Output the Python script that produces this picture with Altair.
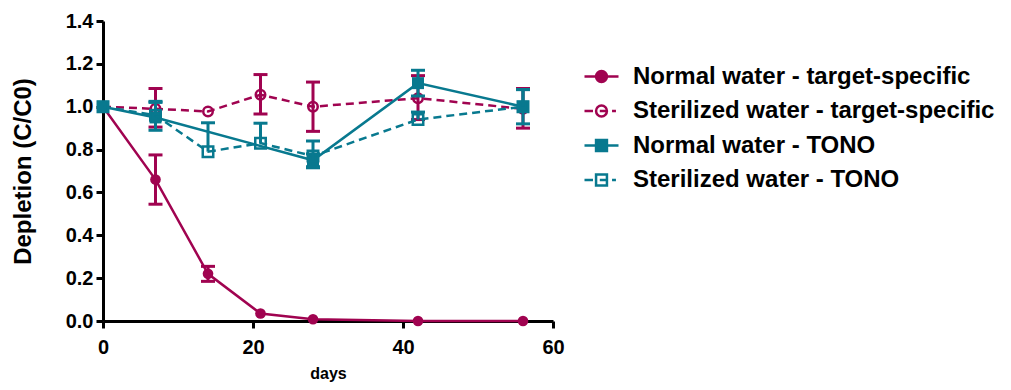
import altair as alt
import pandas as pd

# ---------------- data ----------------
series_names = [
    "Normal water - target-specific",
    "Sterilized water - target-specific",
    "Normal water - TONO",
    "Sterilized water - TONO",
]

nts_days = [0, 7, 14, 21, 28, 42, 56]
nts_mean = [1.0, 0.66, 0.22, 0.035, 0.008, 0.0, 0.0]
nts_up = [0, 0.115, 0.035, 0, 0, 0, 0]
nts_dn = [0, 0.115, 0.035, 0, 0, 0, 0]

sts_days = [0, 7, 14, 21, 28, 42, 56]
sts_mean = [1.0, 0.99, 0.978, 1.056, 1.0, 1.04, 0.99]
sts_up = [0, 0.095, 0, 0.094, 0.115, 0.105, 0.095]
sts_dn = [0, 0.085, 0, 0.09, 0.115, 0.1, 0.09]

nt_days = [0, 7, 28, 42, 56]
nt_mean = [1.0, 0.95, 0.75, 1.11, 1.0]
nt_up = [0, 0.07, 0.03, 0.06, 0.08]
nt_dn = [0, 0.06, 0.035, 0.06, 0.08]

st_days = [0, 7, 14, 21, 28, 42, 56]
st_mean = [1.0, 0.96, 0.79, 0.83, 0.77, 0.94, 1.0]
st_up = [0, 0.065, 0.135, 0.093, 0.07, 0.035, 0.08]
st_dn = [0, 0, 0, 0, 0.05, 0, 0]

x_ticks = [0, 20, 40, 60]
y_ticks = [0.0, 0.2, 0.4, 0.6, 0.8, 1.0, 1.2, 1.4]

MAGENTA = "#A00350"
TEAL = "#08798F"
colors = [MAGENTA, MAGENTA, TEAL, TEAL]
fills = [MAGENTA, "white", TEAL, "white"]
dashed = [False, True, False, True]
marker = ["circle", "circle", "square", "square"]
filled = [True, False, True, False]

# legend symbols (unit box -1..1): line + marker
circ = "M-0.32,0A0.32,0.32 0 1,1 0.32,0A0.32,0.32 0 1,1 -0.32,0Z"
sq = "M-0.32,-0.32H0.32V0.32H-0.32Z"
legend_paths = [
    "M-1,0H1" + circ,
    "M-1,0H-0.5M0.62,0H0.85M-0.1,0H0.3" + circ,
    "M-1,0H1" + sq,
    "M-1,0H-0.5M0.62,0H0.85M-0.1,0H0.3" + sq,
]

raw = [
    (nts_days, nts_mean, nts_up, nts_dn),
    (sts_days, sts_mean, sts_up, sts_dn),
    (nt_days, nt_mean, nt_up, nt_dn),
    (st_days, st_mean, st_up, st_dn),
]

rows, caps = [], []
for name, (d, m, u, dn) in zip(series_names, raw):
    for di, mi, ui, dni in zip(d, m, u, dn):
        rows.append(dict(series=name, day=di, mean=mi, lo=mi - dni, hi=mi + ui,
                         has_err=(ui > 0 or dni > 0)))
        if ui > 0:
            caps.append(dict(series=name, day=di, val=mi + ui))
        if dni > 0:
            caps.append(dict(series=name, day=di, val=mi - dni))
df = pd.DataFrame(rows)
caps_df = pd.DataFrame(caps)

xs = alt.Scale(domain=[0, 60], nice=False, zero=False)
ys = alt.Scale(domain=[0, 1.4], nice=False)

X = alt.X("day:Q", scale=xs,
          axis=alt.Axis(title="days", values=x_ticks, format="d", titleFontSize=16,
                        titlePadding=8, labelPadding=9, labelFontSize=20,
                        labelFlush=False))
Y = alt.Y("mean:Q", scale=ys,
          axis=alt.Axis(title="Depletion (C/C0)", values=y_ticks, format=".1f",
                        titleFontSize=24, titlePadding=30, labelPadding=3, labelFontSize=20,
                        labelFlush=False))

layers = []
for i, name in enumerate(series_names):
    sdf = df[df.series == name]
    line_kw = dict(color=colors[i], strokeWidth=2.5)
    if dashed[i]:
        line_kw["strokeDash"] = [8, 5]
    layers.append(alt.Chart(sdf).mark_line(**line_kw).encode(x=X, y=Y))
    edf = sdf[sdf.has_err]
    if len(edf):
        layers.append(alt.Chart(edf).mark_rule(color=colors[i], strokeWidth=3)
                      .encode(x="day:Q", y="lo:Q", y2="hi:Q"))
    cdf = caps_df[caps_df.series == name]
    if len(cdf):
        layers.append(alt.Chart(cdf).mark_tick(color=colors[i], orient="horizontal",
                                               size=14, thickness=3, opacity=1)
                      .encode(x="day:Q", y="val:Q"))
    pt_kw = dict(shape=marker[i], filled=filled[i], color=colors[i], opacity=1,
                 size=(113 if marker[i] == "circle" else 144) if filled[i] else
                 (90 if marker[i] == "circle" else 110),
                 strokeWidth=2.5)
    layers.append(alt.Chart(sdf).mark_point(**pt_kw).encode(x="day:Q", y="mean:Q"))

leg = alt.Legend(title=None, orient="none", legendX=480, legendY=37, padding=0,
                 labelFont="Liberation Sans", labelFontSize=24, labelFontWeight="bold",
                 labelColor="black", labelLimit=600, labelOffset=13, rowPadding=3.5,
                 symbolSize=1156, symbolStrokeWidth=2.5, symbolOpacity=1)
legend_layer = alt.Chart(df).transform_filter("datum.day < 0").mark_point(opacity=1).encode(
    x="day:Q", y="mean:Q",
    color=alt.Color("series:N", scale=alt.Scale(domain=series_names, range=colors), legend=leg),
    fill=alt.Fill("series:N", scale=alt.Scale(domain=series_names, range=fills), legend=leg),
    shape=alt.Shape("series:N", scale=alt.Scale(domain=series_names, range=legend_paths), legend=leg),
)
layers.append(legend_layer)

chart = alt.layer(*layers).properties(
    width=450, height=300,
    autosize=alt.AutoSizeParams(type="none"),
    padding={"left": 95, "top": 13, "right": 450, "bottom": 61},
).configure_view(stroke=None).configure_axis(
    domainColor="black", domainWidth=3, tickColor="black", tickWidth=3, tickSize=7,
    labelFont="Liberation Sans", labelFontWeight="bold", labelColor="black",
    titleFont="Liberation Sans", titleFontWeight="bold", titleColor="black", grid=False,
)

chart.save("out.html", embed_options={"renderer": "svg", "actions": False})
